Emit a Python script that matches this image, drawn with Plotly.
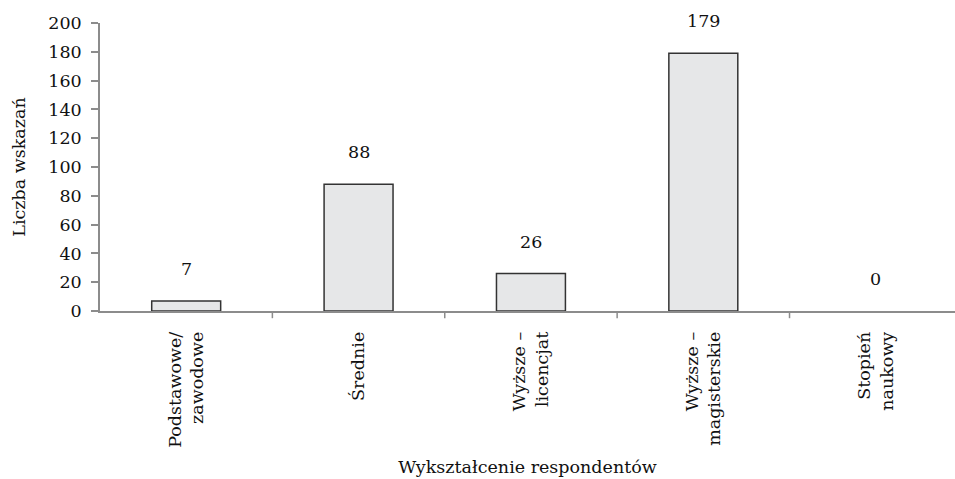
import plotly.graph_objects as go

categories = ["Podstawowe/<br>zawodowe", "Średnie", "Wyższe –<br>licencjat",
              "Wyższe –<br>magisterskie", "Stopień<br>naukowy"]
counts = [7, 88, 26, 179, 0]
y_ticks = [0, 20, 40, 60, 80, 100, 120, 140, 160, 180, 200]

FONT = "DejaVu Serif"
SIZE = 17.5
AXIS_GREY = "#8c8c8c"

fig = go.Figure()
fig.add_trace(go.Bar(
    x=list(range(len(categories))),
    y=counts,
    width=0.4,
    marker=dict(color="#e6e7e8",
                line=dict(color="#333333",
                          width=[1.5 if v > 0 else 0 for v in counts])),
    hoverinfo="skip",
))

# value labels above each bar
for i, v in enumerate(counts):
    fig.add_annotation(x=i, y=v, text=str(v), showarrow=False,
                       yanchor="bottom", yshift=20,
                       font=dict(family=FONT, size=SIZE, color="#111111"))

fig.update_layout(
    width=955, height=479,
    margin=dict(l=100, r=0, t=23, b=168),
    paper_bgcolor="white", plot_bgcolor="white",
    showlegend=False,
    font=dict(family=FONT, size=SIZE, color="#111111"),
    bargap=0.6,
)
fig.update_xaxes(
    range=[-0.5, 4.46],
    tickmode="array",
    tickvals=list(range(len(categories))),
    ticktext=categories,
    tickangle=-90,
    ticks="",
    ticklabelstandoff=12,
    showline=True, linecolor=AXIS_GREY, linewidth=1.5,
    showgrid=False, zeroline=False,
    title=dict(text="Wykształcenie respondentów", standoff=14,
               font=dict(family=FONT, size=SIZE)),
    tickfont=dict(family=FONT, size=SIZE),
)
# category boundary ticks
for b in [0.5, 1.5, 2.5, 3.5]:
    fig.add_shape(type="line", xref="x", yref="paper", x0=b, x1=b,
                  y0=0, y1=-0.025, line=dict(color=AXIS_GREY, width=1.5))
fig.update_yaxes(
    range=[0, 200],
    tickmode="array", tickvals=y_ticks,
    ticks="outside", ticklen=7, tickcolor=AXIS_GREY, tickwidth=1.5,
    ticklabelstandoff=6,
    showline=True, linecolor=AXIS_GREY, linewidth=1.5,
    showgrid=False, zeroline=False,
    title=dict(text="Liczba wskazań", standoff=18,
               font=dict(family=FONT, size=SIZE)),
    tickfont=dict(family=FONT, size=SIZE),
)

fig.write_html("out.html")
